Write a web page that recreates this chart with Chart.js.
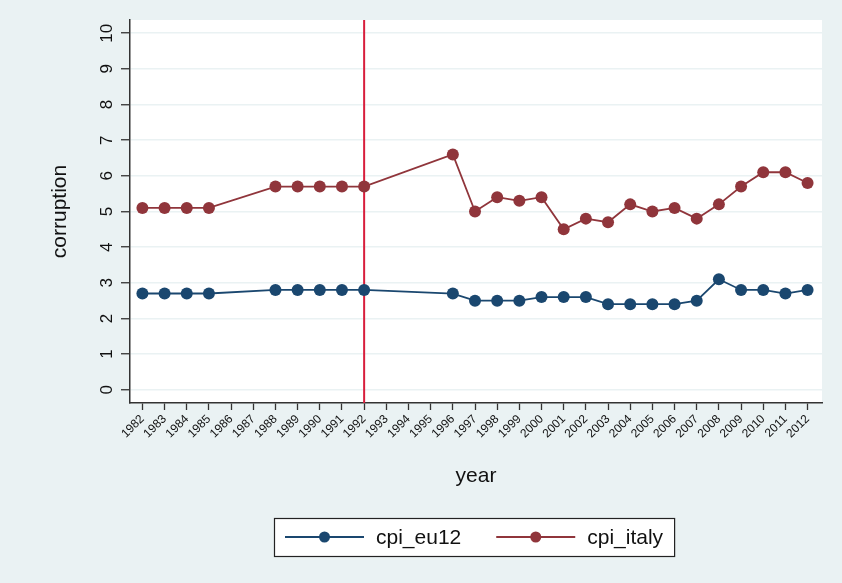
<!DOCTYPE html>
<html>
<head>
<meta charset="utf-8">
<script src="https://cdn.jsdelivr.net/npm/chart.js@4.4.1/dist/chart.umd.min.js"></script>
<style>
  html, body { margin: 0; padding: 0; background: #EAF2F3; }
  #wrap { width: 842px; height: 583px; }
</style>
</head>
<body>
<div id="wrap"><canvas id="cpiChart" width="842" height="583"></canvas></div>
<script>
"use strict";

// 年（データのある年のみ）
const years = [1982, 1983, 1984, 1985, 1988, 1989, 1990, 1991, 1992,
               1996, 1997, 1998, 1999, 2000, 2001, 2002, 2003, 2004,
               2005, 2006, 2007, 2008, 2009, 2010, 2011, 2012];
// EU12 の腐敗指数
const cpiEu12 = [2.7, 2.7, 2.7, 2.7, 2.8, 2.8, 2.8, 2.8, 2.8,
                 2.7, 2.5, 2.5, 2.5, 2.6, 2.6, 2.6, 2.4, 2.4,
                 2.4, 2.4, 2.5, 3.1, 2.8, 2.8, 2.7, 2.8];
// イタリアの腐敗指数
const cpiItaly = [5.1, 5.1, 5.1, 5.1, 5.7, 5.7, 5.7, 5.7, 5.7,
                  6.6, 5.0, 5.4, 5.3, 5.4, 4.5, 4.8, 4.7, 5.2,
                  5.0, 5.1, 4.8, 5.2, 5.7, 6.1, 6.1, 5.8];
// x軸の目盛（1982〜2012 の全年）
const yearTicks = [1982, 1983, 1984, 1985, 1986, 1987, 1988, 1989, 1990, 1991,
                   1992, 1993, 1994, 1995, 1996, 1997, 1998, 1999, 2000, 2001,
                   2002, 2003, 2004, 2005, 2006, 2007, 2008, 2009, 2010, 2011, 2012];
// y軸の目盛
const corruptionTicks = [0, 1, 2, 3, 4, 5, 6, 7, 8, 9, 10];
// 縦線を引く年
const markYear = 1992;

const NAVY = "#1A476F";
const MAROON = "#90353B";
const FONT = "'Liberation Sans', Arial, Helvetica, sans-serif";

const toPoints = vals => years.map((y, i) => ({ x: y, y: vals[i] }));

// プロット領域の白背景
const plotBackground = {
    id: "plotBackground",
    beforeDraw(chart) {
        const { ctx, chartArea: a } = chart;
        ctx.save();
        ctx.fillStyle = "#FFFFFF";
        ctx.fillRect(a.left, a.top, a.right - a.left, a.bottom - a.top);
        ctx.restore();
    }
};

// 1992年の縦線
const markLine = {
    id: "markLine",
    beforeDatasetsDraw(chart) {
        const { ctx, chartArea: a } = chart;
        const x = chart.scales.x.getPixelForValue(markYear);
        ctx.save();
        ctx.strokeStyle = "#D81E3C";
        ctx.lineWidth = 2;
        ctx.beginPath();
        ctx.moveTo(x, a.top);
        ctx.lineTo(x, a.bottom);
        ctx.stroke();
        ctx.restore();
    }
};

// y軸の目盛ラベル（縦書き）
const rotatedYLabels = {
    id: "rotatedYLabels",
    afterDraw(chart) {
        const { ctx } = chart;
        const yScale = chart.scales.y;
        ctx.save();
        ctx.fillStyle = "#111";
        ctx.font = "17px " + FONT;
        ctx.textAlign = "center";
        ctx.textBaseline = "middle";
        corruptionTicks.forEach(v => {
            const y = yScale.getPixelForValue(v);
            ctx.save();
            ctx.translate(yScale.right - 24, y);
            ctx.rotate(-Math.PI / 2);
            ctx.fillText(String(v), 0, 1);
            ctx.restore();
        });
        ctx.restore();
    }
};

// 凡例（線＋マーカー）
const lineLegend = {
    id: "lineLegend",
    afterDraw(chart) {
        const { ctx, chartArea: a } = chart;
        const lineLen = 79, gap = 12, itemGap = 35, padX = 11;
        ctx.save();
        ctx.font = "21px " + FONT;
        const items = chart.data.datasets.map(ds => ({
            label: ds.label, color: ds.borderColor, w: ctx.measureText(ds.label).width
        }));
        const total = padX * 2 + items.reduce((s, it) => s + lineLen + gap + it.w, 0)
            + itemGap * (items.length - 1);
        const boxH = 38, top = 518;
        const left = Math.round((a.left + a.right) / 2 - total / 2) - 2;
        ctx.fillStyle = "#FFFFFF";
        ctx.fillRect(left, top, total, boxH);
        ctx.strokeStyle = "#222";
        ctx.lineWidth = 1.2;
        ctx.strokeRect(left + 0.5, top + 0.5, total, boxH);
        const cy = top + boxH / 2;
        let x = left + padX;
        items.forEach(it => {
            ctx.strokeStyle = it.color;
            ctx.lineWidth = 1.8;
            ctx.beginPath();
            ctx.moveTo(x, cy);
            ctx.lineTo(x + lineLen, cy);
            ctx.stroke();
            ctx.fillStyle = it.color;
            ctx.beginPath();
            ctx.arc(x + lineLen / 2, cy, 5.5, 0, Math.PI * 2);
            ctx.fill();
            x += lineLen + gap;
            ctx.fillStyle = "#111";
            ctx.textAlign = "left";
            ctx.textBaseline = "middle";
            ctx.fillText(it.label, x, cy + 1);
            x += it.w + itemGap;
        });
        ctx.restore();
    }
};

const config = {
    type: "line",
    data: {
        datasets: [
            {
                label: "cpi_eu12",
                data: toPoints(cpiEu12),
                borderColor: NAVY,
                backgroundColor: NAVY,
                pointBackgroundColor: NAVY,
                pointBorderColor: NAVY,
                borderWidth: 1.8,
                pointRadius: 6,
                pointBorderWidth: 0,
                tension: 0
            },
            {
                label: "cpi_italy",
                data: toPoints(cpiItaly),
                borderColor: MAROON,
                backgroundColor: MAROON,
                pointBackgroundColor: MAROON,
                pointBorderColor: MAROON,
                borderWidth: 1.8,
                pointRadius: 6,
                pointBorderWidth: 0,
                tension: 0
            }
        ]
    },
    options: {
        responsive: false,
        animation: false,
        layout: { padding: { top: 20, right: 20, left: 0, bottom: 0 } },
        plugins: {
            legend: { display: false },
            tooltip: { enabled: false }
        },
        scales: {
            x: {
                type: "linear",
                min: 1981.44,
                max: 2012.65,
                afterBuildTicks: s => { s.ticks = yearTicks.map(v => ({ value: v })); },
                afterFit: s => { s.height = 180; },
                grid: {
                    drawOnChartArea: false,
                    drawTicks: true,
                    tickLength: 7,
                    tickColor: "#333",
                    tickWidth: 1.3
                },
                border: { display: true, color: "#333", width: 1.5 },
                ticks: {
                    minRotation: 45,
                    maxRotation: 45,
                    autoSkip: false,
                    padding: 2,
                    color: "#111",
                    font: { family: FONT, size: 12 },
                    callback: v => String(v)
                },
                title: {
                    display: true,
                    text: "year",
                    color: "#111",
                    font: { family: FONT, size: 21 },
                    padding: { top: 0, bottom: 94 }
                }
            },
            y: {
                min: -0.37,
                max: 10.37,
                afterBuildTicks: s => { s.ticks = corruptionTicks.map(v => ({ value: v })); },
                afterFit: s => { s.width = 130; },
                grid: {
                    color: "#EAF2F3",
                    lineWidth: 1.5,
                    drawTicks: true,
                    tickLength: 9,
                    tickColor: "#333",
                    tickWidth: 1.3
                },
                border: { display: true, color: "#333", width: 1.5 },
                ticks: { display: false },
                title: {
                    display: true,
                    text: "corruption",
                    color: "#111",
                    font: { family: FONT, size: 21 },
                    padding: { top: 48, bottom: 0 }
                }
            }
        }
    },
    plugins: [plotBackground, markLine, rotatedYLabels, lineLegend]
};

new Chart(document.getElementById("cpiChart"), config);
</script>
</body>
</html>
